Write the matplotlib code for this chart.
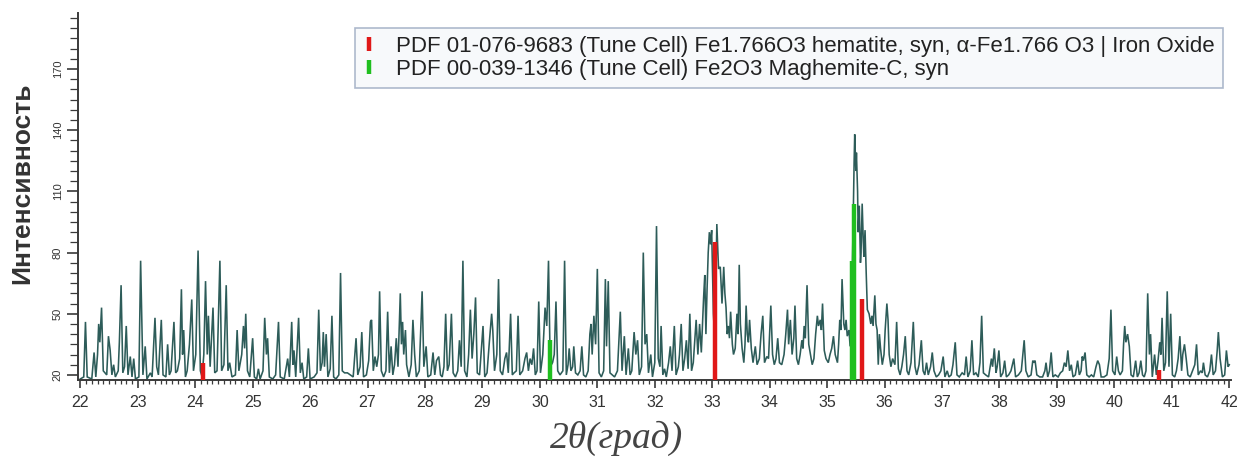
import matplotlib
matplotlib.use("Agg")
import matplotlib.pyplot as plt
from matplotlib.lines import Line2D
from matplotlib.ticker import MultipleLocator, FixedLocator

two_theta = [
 22.00,22.06,22.09,22.12,22.20,22.24,22.27,22.30,22.32,22.34,22.37,22.40,22.46,22.49,22.52,22.55,22.58,22.61,22.66,22.68,
 22.71,22.74,22.77,22.80,22.83,22.87,22.90,22.93,22.96,23.02,23.05,23.09,23.13,23.16,23.22,23.25,23.30,23.33,23.36,23.41,
 23.44,23.49,23.52,23.55,23.58,23.63,23.66,23.69,23.73,23.76,23.78,23.80,23.83,23.86,23.90,23.94,23.97,24.01,24.05,24.09,
 24.12,24.15,24.18,24.21,24.23,24.26,24.31,24.34,24.38,24.43,24.46,24.50,24.54,24.57,24.60,24.64,24.70,24.73,24.76,24.81,
 24.84,24.86,24.88,24.91,24.95,25.00,25.03,25.07,25.10,25.13,25.18,25.21,25.24,25.26,25.29,25.35,25.40,25.45,25.48,25.55,
 25.61,25.64,25.68,25.70,25.72,25.75,25.80,25.83,25.86,25.89,25.94,25.97,26.00,26.07,26.12,26.15,26.18,26.21,26.23,26.25,
 26.28,26.31,26.35,26.38,26.41,26.45,26.50,26.53,26.56,26.60,26.65,26.70,26.75,26.80,26.83,26.87,26.90,26.93,26.98,27.02,
 27.05,27.07,27.10,27.13,27.16,27.19,27.21,27.24,27.28,27.32,27.35,27.38,27.41,27.44,27.47,27.50,27.53,27.57,27.59,27.61,
 27.63,27.66,27.68,27.72,27.76,27.79,27.82,27.85,27.90,27.95,27.98,28.02,28.05,28.10,28.14,28.17,28.20,28.24,28.27,28.30,
 28.33,28.36,28.39,28.42,28.46,28.49,28.53,28.57,28.60,28.63,28.66,28.69,28.73,28.76,28.79,28.82,28.85,28.88,28.91,28.95,
 29.01,29.04,29.08,29.12,29.16,29.18,29.21,29.25,29.28,29.31,29.35,29.39,29.42,29.45,29.49,29.52,29.55,29.59,29.62,29.65,
 29.70,29.74,29.77,29.80,29.83,29.86,29.89,29.92,29.95,29.98,30.01,30.05,30.09,30.12,30.15,30.18,30.22,30.25,30.28,30.31,
 30.35,30.40,30.43,30.46,30.49,30.51,30.54,30.57,30.59,30.62,30.66,30.70,30.73,30.76,30.80,30.84,30.87,30.89,30.91,30.94,
 30.97,31.00,31.03,31.07,31.11,31.14,31.16,31.19,31.22,31.26,31.30,31.35,31.40,31.43,31.47,31.50,31.54,31.57,31.60,31.64,
 31.67,31.70,31.73,31.77,31.80,31.83,31.86,31.89,31.93,31.96,32.00,32.03,32.06,32.09,32.11,32.14,32.17,32.20,32.24,32.27,
 32.30,32.34,32.37,32.41,32.43,32.46,32.49,32.52,32.55,32.58,32.61,32.64,32.67,32.72,32.75,32.78,32.81,32.85,32.87,32.89,
 32.91,32.93,32.95,32.97,32.99,33.02,33.04,33.06,33.08,33.11,33.14,33.17,33.20,33.22,33.24,33.26,33.28,33.30,33.32,33.35,
 33.37,33.40,33.43,33.45,33.47,33.49,33.52,33.55,33.57,33.59,33.61,33.63,33.65,33.68,33.71,33.75,33.78,33.82,33.85,33.88,
 33.91,33.95,33.98,34.02,34.05,34.08,34.11,34.14,34.17,34.21,34.25,34.28,34.31,34.33,34.36,34.39,34.42,34.44,34.47,34.50,
 34.53,34.56,34.58,34.60,34.62,34.65,34.68,34.71,34.74,34.77,34.80,34.83,34.85,34.88,34.90,34.92,34.95,34.98,35.02,35.05,
 35.08,35.11,35.14,35.18,35.20,35.22,35.24,35.26,35.29,35.31,35.33,35.35,35.38,35.40,35.43,35.45,35.47,35.48,35.50,35.51,
 35.53,35.54,35.56,35.58,35.59,35.61,35.63,35.64,35.66,35.68,35.70,35.73,35.76,35.78,35.80,35.83,35.85,35.87,35.89,35.91,
 35.93,35.96,35.99,36.01,36.04,36.06,36.08,36.11,36.14,36.18,36.21,36.24,36.27,36.30,36.33,36.36,36.39,36.42,36.46,36.50,
 36.53,36.56,36.60,36.64,36.67,36.70,36.73,36.76,36.80,36.83,36.86,36.90,36.94,36.98,37.02,37.05,37.09,37.12,37.16,37.19,
 37.23,37.26,37.30,37.35,37.39,37.42,37.45,37.49,37.52,37.55,37.59,37.63,37.66,37.69,37.72,37.76,37.81,37.86,37.88,37.91,
 37.94,37.96,37.99,38.02,38.06,38.09,38.12,38.16,38.20,38.25,38.28,38.33,38.38,38.43,38.46,38.50,38.55,38.58,38.60,38.62,
 38.65,38.70,38.75,38.79,38.81,38.84,38.87,38.90,38.93,38.97,39.02,39.06,39.10,39.13,39.16,39.19,39.22,39.25,39.28,39.32,
 39.36,39.39,39.42,39.44,39.46,39.49,39.52,39.56,39.60,39.64,39.68,39.71,39.74,39.77,39.82,39.87,39.91,39.94,39.97,40.01,
 40.04,40.07,40.10,40.14,40.16,40.18,40.20,40.23,40.26,40.29,40.33,40.37,40.40,40.43,40.46,40.49,40.52,40.55,40.58,40.61,
 40.63,40.66,40.70,40.73,40.76,40.79,40.81,40.83,40.86,40.89,40.92,40.95,40.98,41.01,41.05,41.08,41.11,41.14,41.17,41.19,
 41.22,41.25,41.28,41.32,41.36,41.40,41.43,41.46,41.50,41.53,41.55,41.58,41.62,41.66,41.69,41.72,41.76,41.79,41.81,41.84,
 41.88,41.92,41.95,41.98,42.00]
intensity = [
 18,19,46,19,18,31,19,30,45,36,53,22,20,39,32,20,25,19,22,36,
 64,21,24,44,20,29,19,28,18,19,76,20,34,18,21,19,48,24,20,47,
 20,19,35,20,22,46,21,22,28,62,30,42,19,22,35,57,22,30,81,22,
 19,30,66,30,49,24,53,21,22,76,22,25,64,22,26,19,20,42,22,30,
 44,33,50,22,19,38,19,18,23,18,22,48,30,38,19,18,20,46,19,18,
 28,19,46,25,32,19,48,21,26,18,19,33,18,19,21,52,22,26,41,24,
 40,19,23,49,19,18,20,70,22,21,21,20,19,38,20,24,41,19,20,27,
 46,47,22,29,24,30,61,22,19,22,51,21,34,20,25,38,24,60,35,46,
 30,42,25,19,25,47,30,19,22,61,24,34,19,20,31,20,27,29,20,19,
 24,50,22,25,50,21,19,22,37,24,76,22,19,30,52,28,40,58,21,20,
 44,19,21,36,50,42,22,30,67,22,20,28,31,21,50,20,21,22,49,20,
 22,28,31,22,28,25,33,20,22,56,21,30,53,44,76,24,26,30,56,22,
 20,22,76,20,25,33,22,24,34,21,20,22,34,20,19,22,40,45,30,49,
 35,72,21,19,22,67,34,66,21,20,19,22,51,22,39,20,33,20,22,41,
 30,37,20,24,80,35,40,21,30,19,26,93,28,24,44,20,23,19,26,34,
 22,44,20,24,30,45,22,28,37,23,50,22,26,47,30,45,31,58,69,40,
 62,80,90,84,91,50,40,60,94,72,73,55,73,60,53,40,44,38,51,35,
 30,33,50,40,74,45,33,26,35,54,40,36,47,33,26,34,25,28,40,49,
 26,29,28,54,30,25,28,38,26,25,30,40,52,35,47,30,38,54,28,25,
 30,37,33,44,38,64,35,30,25,28,40,49,44,47,42,55,32,28,26,30,
 33,39,30,26,35,47,42,67,45,42,47,39,42,34,60,90,125,138,120,129,
 110,90,103,75,80,104,85,78,91,70,52,50,45,49,44,59,45,42,25,40,
 33,25,30,42,55,47,30,24,28,25,46,23,20,24,30,39,22,20,26,46,
 24,20,25,37,22,20,26,20,24,31,22,19,20,22,29,19,22,19,20,25,
 36,20,19,21,20,29,19,22,37,20,21,19,26,49,21,20,19,28,24,33,
 21,24,32,19,21,27,19,20,22,28,19,20,22,37,22,19,20,27,26,27,
 20,19,19,22,26,19,22,31,19,20,19,21,22,26,24,32,22,25,19,20,
 27,20,22,29,27,31,20,19,20,19,24,27,25,19,19,20,28,52,22,20,
 29,22,20,22,35,44,36,40,34,20,19,27,19,21,27,20,19,22,60,30,
 40,19,30,20,27,36,30,48,22,26,61,24,50,20,19,22,28,39,22,30,
 35,28,20,19,22,25,35,20,22,21,26,20,19,22,30,20,22,32,41,28,
 19,20,32,24,25]

# ---- reference patterns (stick positions and heights) ----
hematite_pos = [24.13, 33.05, 35.60, 40.78]
hematite_int = [26, 85, 57, 22.5]
maghemite_pos = [30.17, 35.43, 35.46]
maghemite_int = [37, 76, 104]

hematite_label = "PDF 01-076-9683 (Tune Cell) Fe1.766O3 hematite, syn, \u03b1-Fe1.766 O3 | Iron Oxide"
maghemite_label = "PDF 00-039-1346 (Tune Cell) Fe2O3 Maghemite-C, syn"

x_ticks = list(range(22, 43))
y_ticks = [20, 50, 80, 110, 140, 170]

plt.rcParams['font.family'] = ['Liberation Sans', 'DejaVu Sans']

fig = plt.figure(figsize=(12.45, 4.57), dpi=100)
ax = fig.add_axes([78/1245, 1-380/457, (1231-78)/1245, (380-13)/457])

ax.plot(two_theta, intensity, color='#2d5c59', lw=1.15, solid_joinstyle='miter')
y0 = 17.5
ax.vlines(maghemite_pos, y0, maghemite_int, color='#1fbf1f', lw=3.2, zorder=3)
ax.vlines(hematite_pos, y0, hematite_int, color='#e01818', lw=3.2, zorder=3)

ax.set_xlim(21.96, 42.03)
ax.set_ylim(y0, 197.5)

for s in ['top', 'right']:
    ax.spines[s].set_visible(False)
for s in ['left', 'bottom']:
    ax.spines[s].set_color('#3a3a3a')
    ax.spines[s].set_linewidth(1.4)

ax.xaxis.set_major_locator(FixedLocator(x_ticks))
ax.xaxis.set_minor_locator(MultipleLocator(0.1))
ax.yaxis.set_major_locator(FixedLocator(y_ticks))
ax.yaxis.set_minor_locator(MultipleLocator(5))
ax.tick_params(axis='x', which='major', length=6, width=1.2, color='#3a3a3a',
               labelsize=11.5, labelcolor='#333333', pad=5)
ax.tick_params(axis='x', which='minor', length=3, width=0.9, color='#3a3a3a')
ax.tick_params(axis='y', which='major', length=8, width=1.2, color='#3a3a3a',
               labelsize=8, labelcolor='#333333', labelrotation=90, pad=3)
ax.tick_params(axis='y', which='minor', length=6, width=0.9, color='#3a3a3a')
for lab in ax.get_yticklabels():
    lab.set_va('center')

ax.set_ylabel("Интенсивность", fontsize=19, fontweight='bold', color='#333333',
              va='center')
ax.yaxis.set_label_coords(-0.0486, 0.537)
ax.set_xlabel("2θ(град)", fontsize=27, family=['Liberation Serif', 'DejaVu Serif'],
              style='italic', color='#444444', va='center')
ax.xaxis.set_label_coords(0.4675, -0.158)

handles = [Line2D([], [], color='#e01818', marker='|', markersize=10, markeredgewidth=3.2, ls='none'),
           Line2D([], [], color='#1fbf1f', marker='|', markersize=10, markeredgewidth=3.2, ls='none')]
leg = fig.legend(handles, [hematite_label, maghemite_label], loc='upper left',
                 bbox_to_anchor=(355/1245, 1-28/457), bbox_transform=fig.transFigure,
                 fontsize=16, frameon=True, fancybox=False, borderaxespad=0,
                 handlelength=0.6, handletextpad=0.9, borderpad=0.35, labelspacing=0.1)
leg.get_frame().set_edgecolor('#9aa8c0')
leg.get_frame().set_facecolor('#f6f8fb')
leg.get_frame().set_linewidth(1.2)
for t in leg.get_texts():
    t.set_color('#222222')

fig.savefig("out.png", dpi=100)
